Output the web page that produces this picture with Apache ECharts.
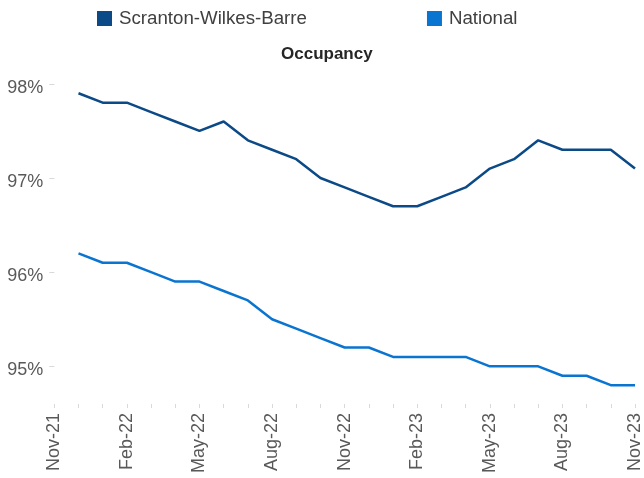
<!DOCTYPE html>
<html>
<head>
<meta charset="utf-8">
<script src="https://cdn.jsdelivr.net/npm/echarts@6/dist/echarts.min.js"></script>
<style>html,body{margin:0;padding:0;background:#fff}#c{width:644px;height:478px}</style>
</head>
<body>
<div id="c"></div>
<script>
var months = ['Nov-21','Dec-21','Jan-22','Feb-22','Mar-22','Apr-22','May-22','Jun-22','Jul-22','Aug-22','Sep-22','Oct-22','Nov-22','Dec-22','Jan-23','Feb-23','Mar-23','Apr-23','May-23','Jun-23','Jul-23','Aug-23','Sep-23','Oct-23','Nov-23'];
var scranton = [null,97.9,97.8,97.8,97.7,97.6,97.5,97.6,97.4,97.3,97.2,97.0,96.9,96.8,96.7,96.7,96.8,96.9,97.1,97.2,97.4,97.3,97.3,97.3,97.1];
var national = [null,96.2,96.1,96.1,96.0,95.9,95.9,95.8,95.7,95.5,95.4,95.3,95.2,95.2,95.1,95.1,95.1,95.1,95.0,95.0,95.0,94.9,94.9,94.8,94.8];
var yTicks = [95,96,97,98];
var seriesNames = ['Scranton-Wilkes-Barre','National'];
var titleText = 'Occupancy';

var chart = echarts.init(document.getElementById('c'), null, {renderer:'canvas'});
var font = 'Liberation Sans, Arial, sans-serif';
chart.setOption({
  animation: false,
  backgroundColor: '#ffffff',
  title: {
    text: titleText, left: 281, top: 46, padding: 0,
    textStyle: {fontFamily: font, fontSize: 17, fontWeight: 'bold', color: '#262626'}
  },
  legend: {
    data: seriesNames, left: 97, top: 9, padding: 0,
    icon: 'rect', itemWidth: 15, itemHeight: 15, itemGap: 120,
    textStyle: {fontFamily: font, fontSize: 18.7, color: '#404040', padding: [0,0,0,2]}
  },
  grid: {left: 54.3, right: 9, top: 65, bottom: 74, containLabel: false, outerBoundsMode: 'none'},
  xAxis: {
    type: 'category', data: months, boundaryGap: false,
    axisLine: {show: false},
    axisTick: {show: true, interval: 0, length: 4, lineStyle: {color: '#d9d9d9'}},
    axisLabel: {interval: 2, rotate: 90, margin: 9, fontFamily: font, fontSize: 18, color: '#595959'}
  },
  yAxis: {
    type: 'value', min: 94.6, max: 98.2,
    splitLine: {show: false},
    axisLine: {show: false},
    axisTick: {show: true, length: 5, lineStyle: {color: '#d9d9d9'}, customValues: yTicks},
    axisLabel: {customValues: yTicks, margin: 11, fontFamily: font, fontSize: 18, color: '#595959',
      verticalAlign: 'top', lineHeight: 8,
      formatter: function (v) { return Math.round(v) + '%'; }}
  },
  series: [
    {name: seriesNames[0], type: 'line', data: scranton, showSymbol: false, symbol: 'none',
     lineStyle: {width: 2.5, color: '#0B4A86'}, itemStyle: {color: '#0B4A86'}},
    {name: seriesNames[1], type: 'line', data: national, showSymbol: false, symbol: 'none',
     lineStyle: {width: 2.5, color: '#0A74D1'}, itemStyle: {color: '#0A74D1'}}
  ]
});
</script>
</body>
</html>
